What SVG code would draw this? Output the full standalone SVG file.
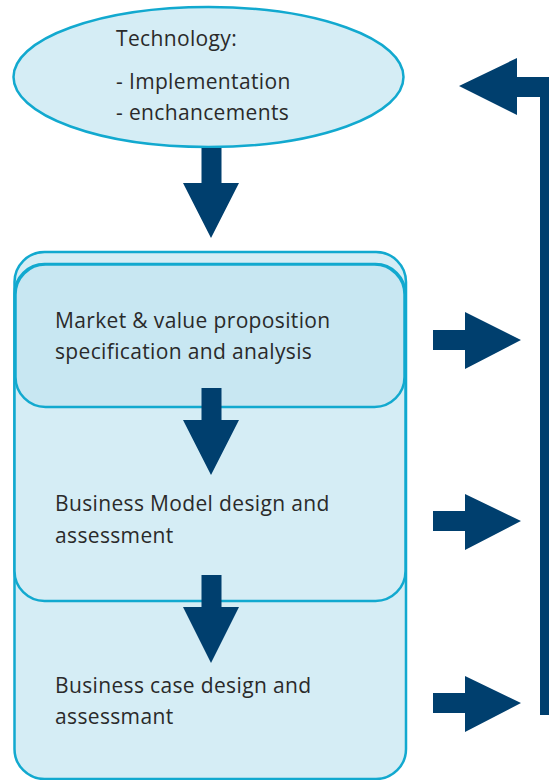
<svg xmlns="http://www.w3.org/2000/svg" width="549" height="780" viewBox="0 0 549 780">
  <style>
    .shape { stroke: #12a9cf; stroke-width: 2.5; }
    .pale { fill: #d5edf5; }
    .deep { fill: #c8e7f2; }
    .label { font-family: "Open Sans", "Liberation Sans", sans-serif; font-size: 21px; letter-spacing: 0.35px; fill: #2a2a2a; }
    .arrow { fill: #003f6e; }
  </style>

  <!-- Technology ellipse -->
  <g id="technology">
    <ellipse class="shape pale" cx="208.5" cy="77" rx="195" ry="70"/>
    <text class="label" x="116" y="46">Technology:</text>
    <text class="label" x="116" y="89">- Implementation</text>
    <text class="label" x="116" y="120">- enchancements</text>
  </g>

  <!-- Stacked process boxes -->
  <g id="business-case">
    <rect class="shape pale" x="14.5" y="252" width="391.5" height="527" rx="30" ry="30"/>
    <text class="label" x="55" y="693">Business case design and</text>
    <text class="label" x="55" y="724">assessmant</text>
  </g>
  <g id="business-model">
    <rect class="shape pale" x="14.5" y="264" width="391" height="337" rx="30" ry="30"/>
    <text class="label" x="55" y="511">Business Model design and</text>
    <text class="label" x="55" y="543">assessment</text>
  </g>
  <g id="market-value">
    <rect class="shape deep" x="15.5" y="264.5" width="389" height="142.5" rx="30" ry="30"/>
    <text class="label" x="55" y="328">Market &amp; value proposition</text>
    <text class="label" x="55" y="359">specification and analysis</text>
  </g>

  <!-- Connectors -->
  <g id="connectors">
    <!-- downward flow -->
    <polygon class="arrow" points="201.5,148 221.5,148 221.5,183 239,183 211,238 183,183 201.5,183"/>
    <polygon class="arrow" points="201.5,388 221.5,388 221.5,420 239,420 211,475 183,420 201.5,420"/>
    <polygon class="arrow" points="201.5,575 221.5,575 221.5,607 239,607 211,663 183,607 201.5,607"/>

    <!-- outputs to the feedback line -->
    <polygon class="arrow" points="433,330 465,330 465,312 521,340 465,369 465,350 433,350"/>
    <polygon class="arrow" points="433,511 465,511 465,494 521,521 465,550 465,531 433,531"/>
    <polygon class="arrow" points="433,693 465,693 465,676 521,703 465,732 465,713 433,713"/>

    <!-- feedback line back to technology -->
    <polygon class="arrow" points="549,77 549,715 540,715 540,97 517,97 517,115 459,86 517,58 517,77"/>
  </g>
</svg>
